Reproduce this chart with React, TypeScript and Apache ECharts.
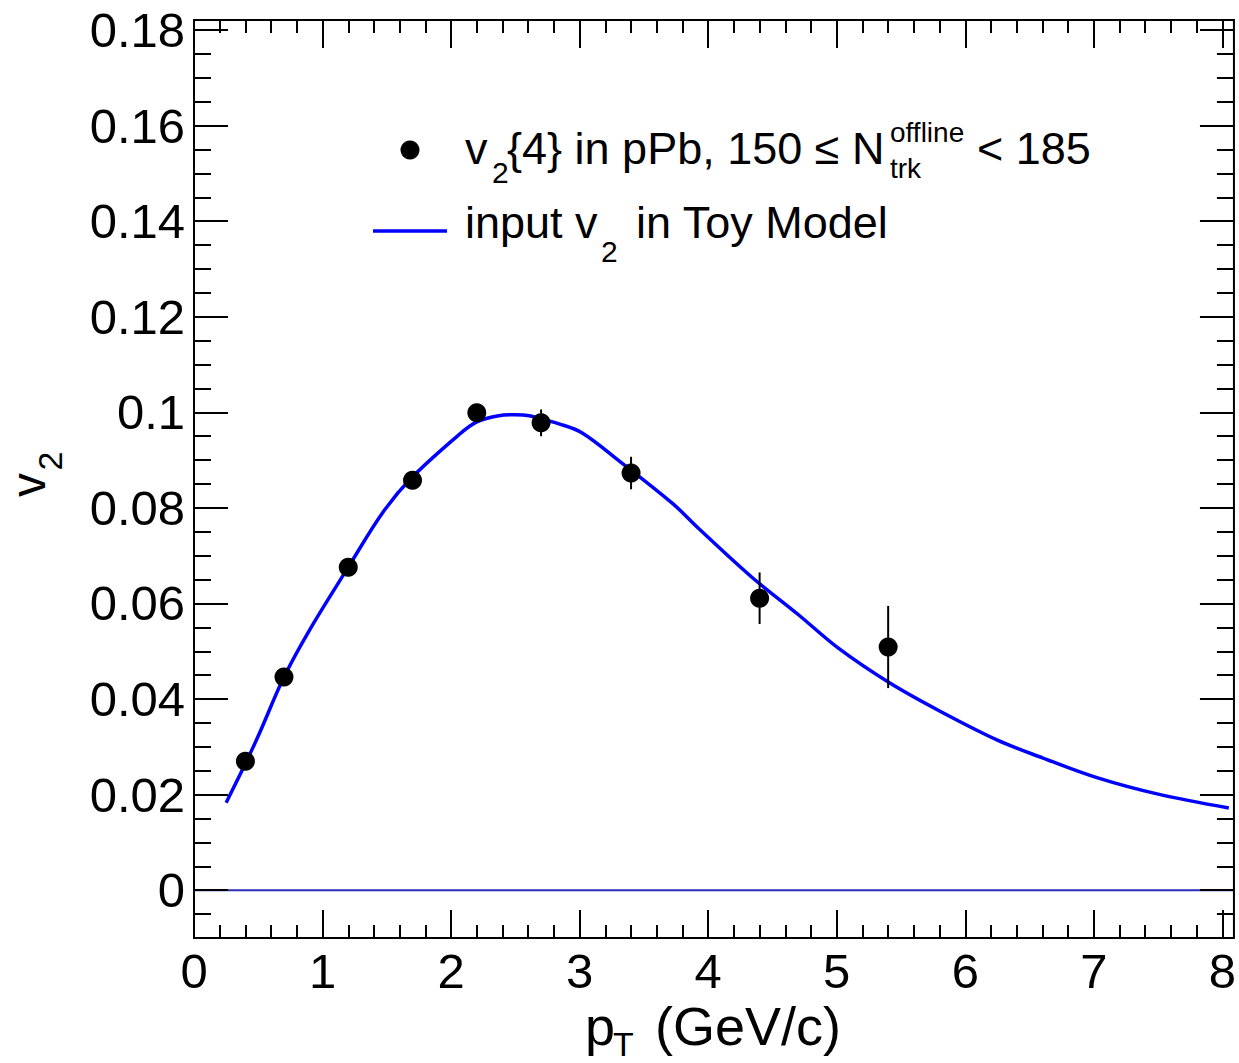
import React, { useEffect, useRef } from "react";
import * as echarts from "echarts";

// ---- data ----
const majorXTicks = [0, 1, 2, 3, 4, 5, 6, 7, 8];
const majorYTicks = [0, 0.02, 0.04, 0.06, 0.08, 0.1, 0.12, 0.14, 0.16, 0.18];

const pointX = [0.4, 0.7, 1.2, 1.7, 2.2, 2.7, 3.4, 4.4, 5.4];
const pointY = [0.027, 0.0446, 0.0676, 0.0858, 0.0999, 0.0978, 0.0873, 0.0611, 0.0509];
const pointErr = [0.001, 0.001, 0.001, 0.0012, 0.0015, 0.0028, 0.0034, 0.0054, 0.0086];

const curveX = [0.25, 0.4, 0.51, 0.7, 0.9, 1.2, 1.47, 1.7, 2.06, 2.2, 2.37, 2.5, 2.61, 2.7, 2.84, 3.02, 3.3, 3.72, 3.93, 4.34, 4.7, 5.01, 5.41, 5.8, 6.25, 6.6, 7.03, 7.5, 8.05];
const curveY = [0.0183, 0.0265, 0.0329, 0.0446, 0.0545, 0.0676, 0.0791, 0.0865, 0.0953, 0.098, 0.0993, 0.0995, 0.0993, 0.0986, 0.0976, 0.0957, 0.09, 0.081, 0.0756, 0.0655, 0.0577, 0.0507, 0.0434, 0.0375, 0.0314, 0.0277, 0.0235, 0.0201, 0.0172];

const zeroLineX = [0, 8.09];
const zeroLineY = [0, 0];

const X_MIN = 0;
const X_MAX = 8.09;
const Y_MIN = -0.01;
const Y_MAX = 0.1821;

function range(a: number, b: number, step: number): number[] {
  const out: number[] = [];
  const n = Math.round((b - a) / step);
  for (let i = 0; i <= n; i++) out.push(+(a + i * step).toFixed(4));
  return out;
}
const minorXTicks = range(0, 8, 0.2);
const minorYTicks = range(-0.01, 0.18, 0.005);

const FONT = "Liberation Sans, Arial, Helvetica, sans-serif";

export default function App() {
  const ref = useRef<HTMLDivElement>(null);
  useEffect(() => {
    document.body.style.margin = "0";
    const chart = echarts.init(ref.current!, null, { renderer: "svg" });

    const xBase = (pos: string, ticks: number[], len: number, labels: boolean) => ({
      type: "value",
      position: pos,
      min: X_MIN,
      max: X_MAX,
      z: 5,
      axisLine: { show: false, onZero: false },
      splitLine: { show: false },
      axisTick: {
        show: true,
        inside: true,
        length: len,
        customValues: ticks,
        lineStyle: { color: "#000", width: 2 },
      },
      axisLabel: labels
        ? {
            show: true,
            customValues: majorXTicks,
            fontSize: 49,
            fontFamily: FONT,
            color: "#000",
            margin: 8,
            formatter: (v: number) => String(Math.round(v)),
          }
        : { show: false },
    });
    const yBase = (pos: string, ticks: number[], len: number, labels: boolean) => ({
      type: "value",
      position: pos,
      min: Y_MIN,
      max: Y_MAX,
      z: 5,
      axisLine: { show: false, onZero: false },
      splitLine: { show: false },
      axisTick: {
        show: true,
        inside: true,
        length: len,
        customValues: ticks,
        lineStyle: { color: "#000", width: 2 },
      },
      axisLabel: labels
        ? {
            show: true,
            customValues: majorYTicks,
            fontSize: 49,
            fontFamily: FONT,
            color: "#000",
            margin: 9,
            formatter: (v: number) => String(+v.toFixed(2)),
          }
        : { show: false },
    });

    const points = pointX.map((x, i) => [x, pointY[i], pointErr[i]]);
    const curve = curveX.map((x, i) => [x, curveY[i]]);
    const zeroLine = zeroLineX.map((x, i) => [x, zeroLineY[i]]);

    const legendText = (text: string, x: number, y: number, size: number) => ({
      type: "text",
      x,
      y,
      style: {
        text,
        font: `${size}px ${FONT}`,
        fill: "#000",
        textAlign: "left",
        textVerticalAlign: "middle",
      },
    });

    chart.setOption({
      animation: false,
      backgroundColor: "#fff",
      grid: {
        left: 194,
        top: 20,
        right: 2,
        bottom: 125,
        show: true,
        borderColor: "#000",
        borderWidth: 2,
        backgroundColor: "transparent",
        containLabel: false,
      },
      xAxis: [
        xBase("bottom", majorXTicks, 28, true),
        xBase("bottom", minorXTicks, 13, false),
        xBase("top", majorXTicks, 28, false),
        xBase("top", minorXTicks, 13, false),
      ],
      yAxis: [
        yBase("left", majorYTicks, 34, true),
        yBase("left", minorYTicks, 17, false),
        yBase("right", majorYTicks, 34, false),
        yBase("right", minorYTicks, 17, false),
      ],
      series: [
        {
          type: "line",
          data: zeroLine,
          symbol: "none",
          lineStyle: { color: "#2c2cb8", width: 2 },
          z: 1,
        },
        {
          type: "line",
          data: curve,
          symbol: "none",
          smooth: 0.35,
          lineStyle: { color: "#0000ff", width: 3.5 },
          z: 2,
        },
        {
          type: "custom",
          data: points,
          encode: { x: 0, y: 1 },
          z: 3,
          renderItem: (params: any, api: any) => {
            const x = api.value(0);
            const y = api.value(1);
            const e = api.value(2);
            const p1 = api.coord([x, y - e]);
            const p2 = api.coord([x, y + e]);
            return {
              type: "line",
              shape: { x1: p1[0], y1: p1[1], x2: p2[0], y2: p2[1] },
              style: { stroke: "#000", lineWidth: 2 },
            };
          },
        },
        {
          type: "scatter",
          data: points.map((p) => [p[0], p[1]]),
          symbol: "circle",
          symbolSize: 19,
          itemStyle: { color: "#000", opacity: 1 },
          z: 4,
        },
      ],
      graphic: [
        // legend row 1
        {
          type: "circle",
          shape: { cx: 410, cy: 150, r: 9.5 },
          style: { fill: "#000" },
        },
        legendText("v", 465, 148, 45),
        legendText("2", 492, 172, 30),
        legendText("{4} in pPb, 150 \u2264 N", 507, 148, 45),
        legendText("offline", 890, 132, 28),
        legendText("trk", 890, 168, 28),
        legendText("< 185", 977, 148, 45),
        // legend row 2
        {
          type: "line",
          shape: { x1: 373, y1: 231, x2: 447, y2: 231 },
          style: { stroke: "#0000ff", lineWidth: 3.5 },
        },
        legendText("input v", 465, 222, 45),
        legendText("2", 601, 251, 30),
        legendText("in Toy Model", 636, 222, 45),
        // y axis title
        {
          type: "text",
          x: 28,
          y: 485,
          rotation: Math.PI / 2,
          style: { text: "v", font: `48px ${FONT}`, fill: "#000", textAlign: "center", textVerticalAlign: "middle" },
        },
        {
          type: "text",
          x: 50,
          y: 461,
          rotation: Math.PI / 2,
          style: { text: "2", font: `34px ${FONT}`, fill: "#000", textAlign: "center", textVerticalAlign: "middle" },
        },
        // x axis title
        legendText("p", 585, 1026, 54),
        legendText("T", 613, 1044, 34),
        legendText("(GeV/c)", 655, 1026, 54),
      ],
    });
    return () => chart.dispose();
  }, []);
  return <div ref={ref} style={{ width: 1239, height: 1063 }} />;
}
